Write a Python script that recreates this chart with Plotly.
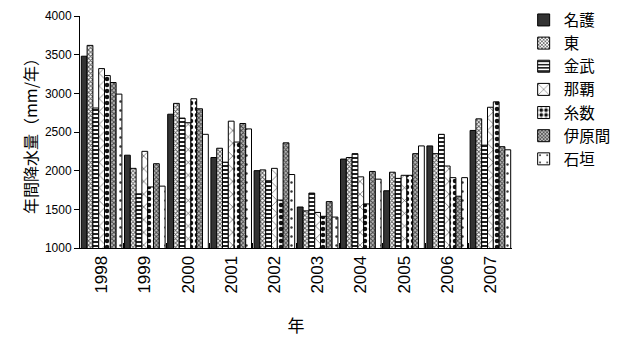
import plotly.graph_objects as go

years = ["1998", "1999", "2000", "2001", "2002", "2003", "2004", "2005", "2006", "2007"]
nago = [3480, 2200, 2730, 2170, 2000, 1530, 2150, 1740, 2320, 2520]
higashi = [3620, 2030, 2870, 2290, 2010, 1480, 2170, 1980, 2220, 2670]
kin = [2810, 1700, 2680, 2110, 1870, 1710, 2220, 1900, 2470, 2330]
naha = [3320, 2250, 2620, 2640, 2030, 1460, 1920, 1940, 2060, 2820]
itokazu = [3230, 1790, 2930, 2370, 1620, 1410, 1570, 1940, 1910, 2890]
ibaruma = [3140, 2090, 2800, 2610, 2360, 1600, 1990, 2220, 1670, 2310]
ishigaki = [2990, 1800, 2470, 2540, 1950, 1400, 1890, 2320, 1910, 2270]

series = [
    ("名護", nago, dict(shape="", bgcolor="#333333")),
    ("東", higashi, dict(shape="x", size=3, solidity=0.5, fgcolor="#555555", bgcolor="#ffffff")),
    ("金武", kin, dict(shape="-", size=4, solidity=0.5, fgcolor="#222222", bgcolor="#ffffff")),
    ("那覇", naha, dict(shape="x", size=9, solidity=0.12, fgcolor="#333333", bgcolor="#ffffff")),
    ("糸数", itokazu, dict(shape=".", size=6, solidity=0.45, fgcolor="#111111", bgcolor="#ffffff")),
    ("伊原間", ibaruma, dict(shape="x", size=3, solidity=0.5, fgcolor="#444444", bgcolor="#bbbbbb")),
    ("石垣", ishigaki, dict(shape=".", size=9, solidity=0.06, fgcolor="#333333", bgcolor="#ffffff")),
]

fig = go.Figure()
for name, vals, pat in series:
    if pat["shape"] == "":
        marker = dict(color=pat["bgcolor"], line=dict(color="black", width=1))
    else:
        marker = dict(color=pat["bgcolor"], line=dict(color="black", width=1),
                      pattern=dict(shape=pat["shape"], size=pat["size"], solidity=pat["solidity"],
                                   fgcolor=pat["fgcolor"], bgcolor=pat["bgcolor"], fillmode="replace"))
    fig.add_trace(go.Bar(x=years, y=vals, name=name, marker=marker))

fig.update_layout(
    width=632, height=337,
    margin=dict(l=80, r=120, t=16, b=89, autoexpand=False),
    barmode="group", bargap=0.06, bargroupgap=0,
    plot_bgcolor="white", paper_bgcolor="white",
    font=dict(family="Liberation Sans, Noto Sans CJK JP", color="black"),
    legend=dict(x=1.027, y=0.99, xanchor="left", yanchor="top", yref="container",
                font=dict(size=15.5, family="Noto Sans CJK JP", color="black"),
                tracegroupgap=0, itemwidth=30, maxheight=1),
    xaxis=dict(type="category", showline=True, linecolor="black", linewidth=1,
               automargin=False,
               ticks="inside", tickson="boundaries", ticklen=5, tickcolor="black",
               tickangle=-90, tickfont=dict(size=17, family="Liberation Sans"),
               title=dict(text="年", font=dict(size=17, family="Noto Sans CJK JP"), standoff=27)),
    yaxis=dict(range=[1000, 4000], tickvals=[1000, 1500, 2000, 2500, 3000, 3500, 4000],
               automargin=False,
               showline=True, linecolor="black", linewidth=1, showgrid=False, zeroline=False,
               ticks="outside", ticklen=5, tickcolor="black",
               tickfont=dict(size=12, family="Liberation Sans"),
               title=dict(text="年間降水量（mm/年）", font=dict(size=16, family="Noto Sans CJK JP", color="black"), standoff=3)),
)

fig.write_html("out.html")
